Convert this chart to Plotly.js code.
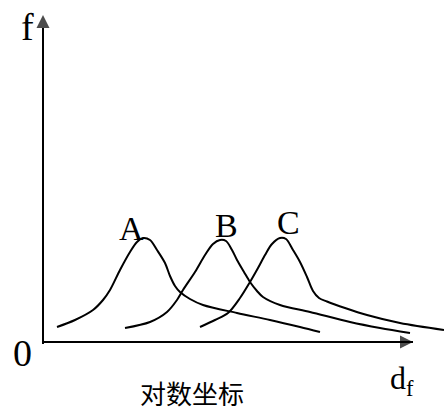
<!DOCTYPE html>
<html>
<head>
<meta charset="utf-8">
<script src="https://cdn.plot.ly/plotly-3.0.1.min.js"></script>
<style>
html,body{margin:0;padding:0;background:#fff;}
#chart{width:444px;height:410px;}
</style>
</head>
<body>
<div id="chart"></div>
<script>
// Schematic curves (log-scale d_f on x, frequency f on y), arbitrary units
const curveNames = ["A", "B", "C"];
const curveA_x = [14, 32, 50, 60, 67, 77, 87, 94, 100, 107, 114, 122, 127, 132, 137, 147, 160, 194, 227, 257, 277];
const curveA_y = [15, 22, 32, 42, 52, 72, 90, 100, 104, 102, 92, 79, 66, 56, 50, 43, 37, 29, 22, 15, 10];
const curveB_x = [82, 107, 124, 134, 140, 152, 162, 170, 177, 183, 189, 194, 201, 207, 214, 220, 237, 267, 307, 337, 367];
const curveB_y = [14, 20, 30, 42, 52, 70, 87, 98, 102, 101, 92, 82, 70, 60, 51, 45, 37, 30, 20, 14, 9];
const curveC_x = [157, 172, 185, 197, 207, 215, 222, 229, 237, 243, 250, 257, 264, 270, 276, 284, 302, 324, 357, 401];
const curveC_y = [15, 22, 29, 44, 60, 74, 87, 98, 104, 103, 92, 80, 65, 51, 44, 40.5, 34, 27, 19, 12];
const labelPos = {A: [88, 114], B: [183, 117], C: [245, 120]};
const axisLabels = {y: "f", x: "d<sub>f</sub>", origin: "0", note: "对数坐标"};
const axisMax = {x: 370, y: 327};

const lineStyle = {color: "#000", width: 2, shape: "spline", smoothing: 0.9};
const traces = [
  {x: curveA_x, y: curveA_y, name: "A"},
  {x: curveB_x, y: curveB_y, name: "B"},
  {x: curveC_x, y: curveC_y, name: "C"}
].map(t => Object.assign(t, {type: "scatter", mode: "lines", line: lineStyle, hoverinfo: "skip"}));

// axes drawn as line traces ending in arrow markers
traces.push({type: "scatter", mode: "lines+markers", x: [0, axisMax.x], y: [0, 0],
  line: {color: "#000", width: 2},
  marker: {symbol: ["circle", "arrow-right"], size: [0, 13], color: "#000", line: {width: 0}},
  hoverinfo: "skip"});
traces.push({type: "scatter", mode: "lines+markers", x: [0, 0], y: [-2, axisMax.y],
  line: {color: "#000", width: 2},
  marker: {symbol: ["circle", "arrow-up"], size: [0, 13], color: "#000", line: {width: 0}},
  hoverinfo: "skip"});

const serif = "Liberation Serif, Times New Roman, serif";
const annotations = [];
curveNames.forEach(n => {
  annotations.push({x: labelPos[n][0], y: labelPos[n][1], text: n, showarrow: false,
    font: {family: serif, size: 34, color: "#000"}, xanchor: "center", yanchor: "middle"});
});
annotations.push({x: -16, y: 315, text: axisLabels.y, showarrow: false,
  font: {family: serif, size: 38, color: "#000"}, xanchor: "center", yanchor: "middle"});
annotations.push({x: -21, y: -11, text: axisLabels.origin, showarrow: false,
  font: {family: serif, size: 38, color: "#000"}, xanchor: "center", yanchor: "middle"});
annotations.push({x: 345, y: -38, text: axisLabels.x, showarrow: false,
  font: {family: serif, size: 32, color: "#000"}, xanchor: "left", yanchor: "middle"});
annotations.push({x: 149, y: -50, text: axisLabels.note, showarrow: false,
  font: {family: "Noto Sans CJK SC, sans-serif", size: 26, color: "#000"}, xanchor: "center", yanchor: "middle"});

const layout = {
  width: 444, height: 410,
  margin: {l: 0, r: 0, t: 0, b: 0, pad: 0},
  paper_bgcolor: "#fff", plot_bgcolor: "#fff",
  showlegend: false,
  xaxis: {range: [-43, 401], visible: false, fixedrange: true},
  yaxis: {range: [-68, 342], visible: false, fixedrange: true},
  annotations: annotations
};
Plotly.newPlot("chart", traces, layout, {staticPlot: true, displayModeBar: false});
</script>
</body>
</html>
